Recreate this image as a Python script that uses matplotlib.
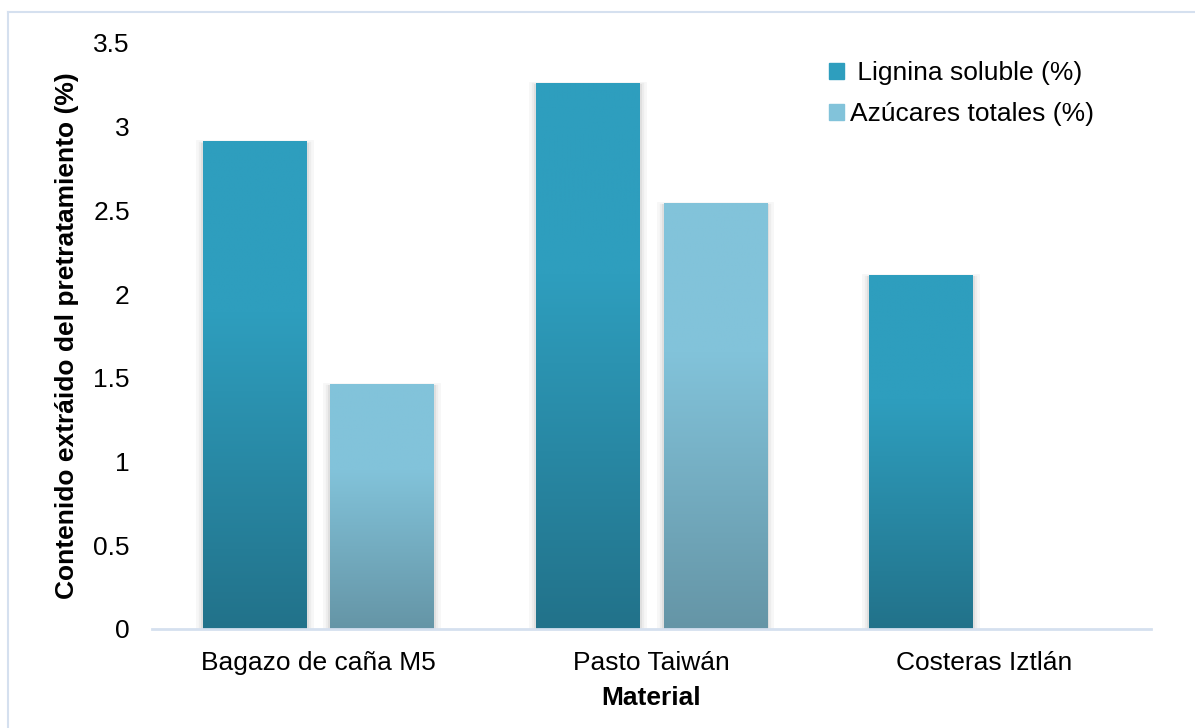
import numpy as np
import matplotlib
matplotlib.use('Agg')
import matplotlib.pyplot as plt
import matplotlib.patheffects as pe
from matplotlib.colors import to_rgb
from matplotlib.patches import Rectangle
from matplotlib.lines import Line2D

plt.rcParams['font.family'] = ['Liberation Sans', 'DejaVu Sans']

########## Data ##########
materiales = ['Bagazo de caña M5', 'Pasto Taiwán', 'Costeras Iztlán']
lignina    = [2.91, 3.26, 2.11]
azucares   = [1.46, 2.54, 0.0]
series_lab = [' Lignina soluble (%)', 'Azúcares totales (%)']

# top / bottom colours of the vertical gradient of each series
grad_lig = ('#2E9EBE', '#22728A')
grad_azu = ('#82C3DA', '#6595A6')

########## Figure ##########
fig = plt.figure(figsize=(11.95, 7.28), dpi=100)
ax = fig.add_axes([0.1272, 0.136, 0.836, 0.805])

# thin frame around the chart area (left and top edges)
fig.add_artist(Line2D([0.0067, 0.0067], [0, 0.9835], transform=fig.transFigure,
                      color='#D5E0EF', lw=1.5))
fig.add_artist(Line2D([0.0067, 1.0], [0.9835, 0.9835], transform=fig.transFigure,
                      color='#D5E0EF', lw=1.5))

x = np.arange(len(materiales))
w = 0.312
off = 0.192

shadow = [pe.Stroke(linewidth=10, foreground='#000000', alpha=0.03, offset=(0, -4)),
          pe.Stroke(linewidth=6, foreground='#000000', alpha=0.04, offset=(0, -3)),
          pe.Stroke(linewidth=3, foreground='#000000', alpha=0.06, offset=(0, -2)),
          pe.Normal()]


def gradient(top, bottom, n=256):
    t = np.linspace(0, 1, n)          # 0 = bottom, 1 = top
    k = np.clip(t / 0.65, 0, 1)       # upper third keeps the top colour
    c0 = np.array(to_rgb(bottom))
    c1 = np.array(to_rgb(top))
    rows = c0[None, :] + (c1 - c0)[None, :] * k[:, None]
    return rows[:, None, :]


for vals, pos, grad in [(lignina, x - off, grad_lig), (azucares, x + off, grad_azu)]:
    bars = ax.bar(pos, vals, width=w, color=grad[0], linewidth=0, zorder=2)
    for b in bars:
        h = b.get_height()
        if h <= 0:
            continue
        b.set_path_effects(shadow)
        ax.imshow(gradient(*grad), extent=(b.get_x(), b.get_x() + b.get_width(), 0, h),
                  origin='lower', aspect='auto', interpolation='bilinear', zorder=3)

ax.set_xlim(-0.5, 2.5)
ax.set_ylim(0, 3.5)
ax.set_yticks(np.arange(0, 3.51, 0.5))
ax.set_yticklabels(['0', '0.5', '1', '1.5', '2', '2.5', '3', '3.5'])
ax.set_xticks(x)
ax.set_xticklabels(materiales)

for s in ['top', 'right', 'left']:
    ax.spines[s].set_visible(False)
ax.spines['bottom'].set_color('#D5E0EF')
ax.spines['bottom'].set_linewidth(2)
ax.spines['bottom'].set_zorder(4)
ax.tick_params(axis='both', length=0, labelsize=19, colors='black')
ax.tick_params(axis='y', pad=16)
ax.tick_params(axis='x', pad=16)

ax.set_ylabel('Contenido extráido del pretratamiento (%)', fontsize=19,
              fontweight='bold', labelpad=10)
ax.set_xlabel('Material', fontsize=19, fontweight='bold', labelpad=8)

handles = [Rectangle((0, 0), 1, 1, color=grad_lig[0]),
           Rectangle((0, 0), 1, 1, color=grad_azu[0])]
ax.legend(handles, series_lab, loc='upper left', bbox_to_anchor=(0.683, 0.934),
          bbox_transform=fig.transFigure, frameon=False, fontsize=19,
          handlelength=0.55, handleheight=0.55, handletextpad=0.25,
          labelspacing=0.64, borderpad=0)

plt.savefig('out.png', dpi=100)
